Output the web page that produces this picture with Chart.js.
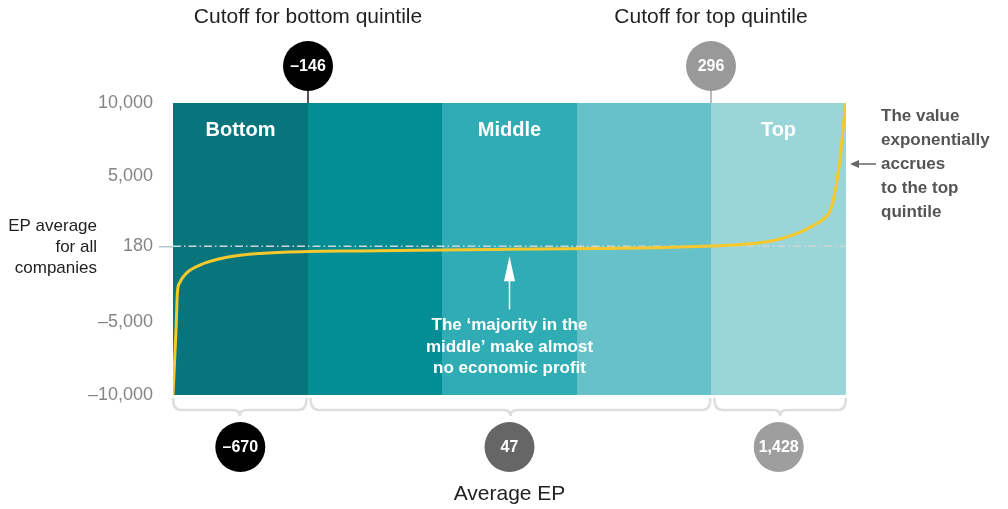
<!DOCTYPE html>
<html>
<head>
<meta charset="utf-8">
<script src="https://cdn.jsdelivr.net/npm/chart.js@4/dist/chart.umd.min.js"></script>
<style>
  body { margin: 0; background: #fff; }
  canvas { display: block; }
</style>
</head>
<body>
<canvas id="ep-chart" width="1008" height="509"></canvas>
<script>
// EP curve, companies ranked by percentile
var percentiles = [0, 0.45, 0.65, 1, 2, 4, 8, 13, 20, 28, 40, 50, 63, 72, 80, 84, 88, 90.2, 93.2, 95.1, 96.9, 97.6, 98.1, 98.6, 99.1, 99.5, 99.85, 100];
var epValues = [-10000, -5500, -3000, -2300, -1650, -1100, -570, -300, -170, -130, -60, -20, 30, 90, 200, 290, 480, 680, 1150, 1600, 2150, 2580, 3350, 4520, 6100, 7950, 9520, 10000];

var yTickValues = [-10000, -5000, 180, 5000, 10000];
var yTickLabels = ['–10,000', '–5,000', '180', '5,000', '10,000'];

var quintileEdges = [0, 20, 40, 60, 80, 100];
var quintileNames = ['Bottom', '', 'Middle', '', 'Top'];

var epAverageAll = 180;

var cutoffPcts = [20, 80];
var cutoffLabels = ['–146', '296'];
var cutoffTitles = ['Cutoff for bottom quintile', 'Cutoff for top quintile'];

var groupRanges = [[0, 20], [20, 80], [80, 100]];
var groupAverages = ['–670', '47', '1,428'];

var bandColors = ['#08757d', '#038d94', '#30acb5', '#66c1c8', '#9ad6d8'];
var cutoffColors = ['#000000', '#999999'];
var cutoffStemColors = ['#555555', '#bbbbbb'];
var averageColors = ['#000000', '#666666', '#9e9e9e'];

var FONT = '"Liberation Sans", Arial, sans-serif';

function circleLabel(ctx, x, y, r, fill, text) {
	ctx.beginPath();
	ctx.arc(x, y, r, 0, Math.PI * 2);
	ctx.fillStyle = fill;
	ctx.fill();
	ctx.fillStyle = '#fff';
	ctx.font = 'bold 16px ' + FONT;
	ctx.textAlign = 'center';
	ctx.textBaseline = 'middle';
	ctx.fillText(text, x, y + 1);
}

function brace(ctx, x1, x2, y0) {
	var cx = (x1 + x2) / 2;
	var h = 12;
	ctx.beginPath();
	ctx.moveTo(x1, y0);
	ctx.quadraticCurveTo(x1, y0 + h, x1 + 8, y0 + h);
	ctx.lineTo(cx - 7, y0 + h);
	ctx.quadraticCurveTo(cx, y0 + h, cx, y0 + h + 6);
	ctx.quadraticCurveTo(cx, y0 + h, cx + 7, y0 + h);
	ctx.lineTo(x2 - 8, y0 + h);
	ctx.quadraticCurveTo(x2, y0 + h, x2, y0);
	ctx.strokeStyle = '#dedede';
	ctx.lineWidth = 2.5;
	ctx.stroke();
}

var bandsPlugin = {
	id: 'bands',
	beforeDatasetsDraw: function (chart) {
		var ctx = chart.ctx;
		var xs = chart.scales.x;
		var ys = chart.scales.y;
		var top = chart.chartArea.top;
		var bottom = chart.chartArea.bottom;
		ctx.save();
		for (var i = 0; i < bandColors.length; i++) {
			var x1 = Math.round(xs.getPixelForValue(quintileEdges[i]));
			var x2 = Math.round(xs.getPixelForValue(quintileEdges[i + 1]));
			ctx.fillStyle = bandColors[i];
			ctx.fillRect(x1, top, x2 - x1 + (i < bandColors.length - 1 ? 1 : 0), bottom - top);
			if (quintileNames[i]) {
				ctx.fillStyle = '#fff';
				ctx.font = 'bold 20px ' + FONT;
				ctx.textAlign = 'center';
				ctx.textBaseline = 'middle';
				ctx.fillText(quintileNames[i], (x1 + x2) / 2, top + 27);
			}
		}
		// average EP line
		var ya = ys.getPixelForValue(epAverageAll);
		ctx.strokeStyle = '#cfd6d9';
		ctx.lineWidth = 1.5;
		ctx.setLineDash([8, 3, 1.5, 3]);
		ctx.beginPath();
		ctx.moveTo(chart.chartArea.left, ya);
		ctx.lineTo(chart.chartArea.right, ya);
		ctx.stroke();
		ctx.restore();
	},
	afterDatasetsDraw: function (chart) {
		var ctx = chart.ctx;
		var xs = chart.scales.x;
		var ys = chart.scales.y;
		var mx = xs.getPixelForValue(50);
		var tipY = ys.getPixelForValue(epAverageAll) + 10;
		ctx.save();
		ctx.strokeStyle = '#fff';
		ctx.fillStyle = '#fff';
		ctx.lineWidth = 1.5;
		ctx.beginPath();
		ctx.moveTo(mx, tipY + 20);
		ctx.lineTo(mx, tipY + 53);
		ctx.stroke();
		ctx.beginPath();
		ctx.moveTo(mx, tipY);
		ctx.lineTo(mx - 5.5, tipY + 25);
		ctx.lineTo(mx + 5.5, tipY + 25);
		ctx.closePath();
		ctx.fill();
		ctx.font = 'bold 17px ' + FONT;
		ctx.textAlign = 'center';
		ctx.textBaseline = 'middle';
		ctx.fillText('The ‘majority in the', mx, 325);
		ctx.fillText('middle’ make almost', mx, 347);
		ctx.fillText('no economic profit', mx, 368);
		ctx.restore();
	},
	afterDraw: function (chart) {
		var ctx = chart.ctx;
		var xs = chart.scales.x;
		var area = chart.chartArea;
		ctx.save();

		// cutoffs above the chart
		for (var i = 0; i < cutoffPcts.length; i++) {
			var cx = Math.round(xs.getPixelForValue(cutoffPcts[i]));
			ctx.strokeStyle = cutoffStemColors[i];
			ctx.lineWidth = 2;
			ctx.beginPath();
			ctx.moveTo(cx, 90);
			ctx.lineTo(cx, area.top);
			ctx.stroke();
			circleLabel(ctx, cx, 66, 25, cutoffColors[i], cutoffLabels[i]);
			ctx.fillStyle = '#222';
			ctx.font = '21px ' + FONT;
			ctx.textAlign = 'center';
			ctx.textBaseline = 'middle';
			ctx.fillText(cutoffTitles[i], cx, 17);
		}

		// average EP per group below the chart
		for (var j = 0; j < groupRanges.length; j++) {
			var gx1 = xs.getPixelForValue(groupRanges[j][0]);
			var gx2 = xs.getPixelForValue(groupRanges[j][1]);
			brace(ctx, gx1 + (j > 0 ? 3 : 0), gx2 - (j < groupRanges.length - 1 ? 1 : 0), area.bottom + 3);
			circleLabel(ctx, (gx1 + gx2) / 2, 447, 25, averageColors[j], groupAverages[j]);
		}
		ctx.fillStyle = '#222';
		ctx.font = '21px ' + FONT;
		ctx.textAlign = 'center';
		ctx.textBaseline = 'middle';
		ctx.fillText('Average EP', xs.getPixelForValue(50), 494);

		// left note
		ctx.font = '17px ' + FONT;
		ctx.textAlign = 'right';
		ctx.fillText('EP average', 97, 226);
		ctx.fillText('for all', 97, 247);
		ctx.fillText('companies', 97, 268);

		// right note with arrow
		ctx.fillStyle = '#555';
		ctx.font = 'bold 17px ' + FONT;
		ctx.textAlign = 'left';
		var notes = ['The value', 'exponentially', 'accrues', 'to the top', 'quintile'];
		for (var k = 0; k < notes.length; k++) {
			ctx.fillText(notes[k], 881, 116 + k * 24);
		}
		ctx.strokeStyle = '#666';
		ctx.fillStyle = '#666';
		ctx.lineWidth = 1.5;
		ctx.beginPath();
		ctx.moveTo(857, 164);
		ctx.lineTo(876, 164);
		ctx.stroke();
		ctx.beginPath();
		ctx.moveTo(850, 164);
		ctx.lineTo(859, 160);
		ctx.lineTo(859, 168);
		ctx.closePath();
		ctx.fill();

		ctx.restore();
	}
};

var ctx = document.getElementById('ep-chart');

var chart = new Chart(ctx, {
	type: 'line',
	data: {
		datasets: [
			{
				label: 'Economic profit',
				data: percentiles.map(function (p, i) { return { x: p, y: epValues[i] }; }),
				borderColor: '#f7c82b',
				borderWidth: 3,
				pointRadius: 0,
				fill: false,
				cubicInterpolationMode: 'monotone'
			}
		]
	},
	options: {
		responsive: false,
		animation: false,
		layout: {
			padding: { top: 103, right: 162, bottom: 114, left: 0 }
		},
		plugins: {
			legend: { display: false },
			tooltip: { enabled: false }
		},
		scales: {
			x: {
				type: 'linear',
				min: 0,
				max: 100,
				display: false
			},
			y: {
				min: -10000,
				max: 10000,
				afterBuildTicks: function (scale) {
					scale.ticks = yTickValues.map(function (v) { return { value: v }; });
				},
				afterFit: function (scale) {
					scale.width = 173;
				},
				border: { display: false },
				grid: {
					drawOnChartArea: false,
					tickLength: 14,
					lineWidth: 1.5,
					color: function (c) {
						return c.tick && c.tick.value === epAverageAll ? '#b5c7cf' : 'rgba(0,0,0,0)';
					}
				},
				ticks: {
					padding: 6,
					color: '#858585',
					font: { family: FONT, size: 18 },
					callback: function (value) {
						return yTickLabels[yTickValues.indexOf(value)];
					}
				}
			}
		}
	},
	plugins: [bandsPlugin]
});
</script>
</body>
</html>
